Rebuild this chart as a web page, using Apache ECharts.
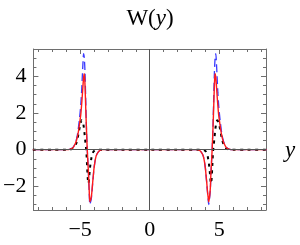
<!DOCTYPE html>
<html>
<head>
<meta charset="utf-8">
<script src="https://cdn.jsdelivr.net/npm/echarts@6/dist/echarts.min.js"></script>
<style>
html,body{margin:0;padding:0;background:#fff;}
#c{width:300px;height:245px;}
</style>
</head>
<body>
<div id="c"></div>
<script>
// ---- data ----
const xs = [-8.4, -7, -6, -5.7, -5.5, -5.4, -5.3, -5.2, -5.1, -5.0, -4.95, -4.9, -4.85, -4.8, -4.75, -4.7, -4.65, -4.6, -4.55, -4.5, -4.45, -4.4, -4.35, -4.3, -4.25, -4.2, -4.15, -4.1, -4.05, -4.0, -3.9, -3.8, -3.6, -3.4, -2, 0,
            2, 3.4, 3.6, 3.8, 3.9, 4.0, 4.05, 4.1, 4.15, 4.2, 4.25, 4.3, 4.35, 4.4, 4.45, 4.5, 4.55, 4.6, 4.65, 4.7, 4.75, 4.8, 4.85, 4.9, 4.95, 5.0, 5.1, 5.2, 5.3, 5.4, 5.5, 5.7, 6, 7, 8.4];
const redW = [0, 0, 0, 0.03, 0.12, 0.25, 0.42, 0.7, 1.1, 1.65, 1.95, 2.4, 2.9, 3.45, 3.95, 4.15, 3.5, 2.3, 1.2, 0.2, -0.6, -1.3, -2.2, -2.85, -2.85, -2.6, -2.25, -1.8, -1.4, -1.0, -0.5, -0.25, -0.05, 0, 0, 0,
              0, 0, -0.05, -0.25, -0.5, -1.0, -1.4, -1.8, -2.25, -2.6, -2.85, -2.85, -2.2, -1.3, -0.6, 0.2, 1.2, 2.3, 3.5, 4.15, 3.95, 3.45, 2.9, 2.4, 1.95, 1.65, 1.1, 0.7, 0.42, 0.25, 0.12, 0.03, 0, 0, 0];
const blueW = [0, 0, 0, 0.03, 0.13, 0.27, 0.47, 0.8, 1.35, 2.05, 2.5, 3.1, 3.9, 4.7, 5.25, 5.0, 4.2, 2.8, 1.3, 0.2, -0.6, -1.35, -2.3, -3.0, -3.0, -2.7, -2.3, -1.85, -1.4, -1.0, -0.5, -0.25, -0.05, 0, 0, 0,
               0, 0, -0.05, -0.25, -0.5, -1.0, -1.4, -1.85, -2.3, -2.7, -3.0, -3.0, -2.3, -1.35, -0.6, 0.2, 1.3, 2.8, 4.2, 5.0, 5.25, 4.7, 3.9, 3.1, 2.5, 2.05, 1.35, 0.8, 0.47, 0.27, 0.13, 0.03, 0, 0, 0];
const blackW = [0, 0, 0, 0.01, 0.07, 0.15, 0.3, 0.55, 0.95, 1.35, 1.5, 1.6, 1.6, 1.5, 1.3, 1.0, 0.6, 0.25, -0.15, -0.9, -1.6, -1.85, -1.5, -1.05, -0.75, -0.5, -0.3, -0.2, -0.12, -0.08, -0.03, -0.01, 0, 0, 0, 0,
                0, 0, 0, -0.01, -0.03, -0.08, -0.12, -0.2, -0.3, -0.5, -0.75, -1.05, -1.5, -1.85, -1.6, -0.9, -0.15, 0.25, 0.6, 1.0, 1.3, 1.5, 1.6, 1.6, 1.5, 1.35, 0.95, 0.55, 0.3, 0.15, 0.07, 0.01, 0, 0, 0];
const xMajor = [-5, 0, 5];
const xMinor = [-8, -7, -6, -5, -4, -3, -2, -1, 0, 1, 2, 3, 4, 5, 6, 7, 8];
const yMajor = [-2, 0, 2, 4];
const yMinor = [-3, -2.5, -2, -1.5, -1, -0.5, 0, 0.5, 1, 1.5, 2, 2.5, 3, 3.5, 4, 4.5, 5, 5.5];
const titleText = 'W(';
const axisVar = 'y';

// ---- chart ----
const XMIN = -8.36, XMAX = 8.36, YMIN = -3.3, YMAX = 5.5;
const FRAME = '#6e6e6e';
const FONT = 'Liberation Serif';
const fmt = v => String(v).replace('-', '\u2212');

function xa(pos, vals, len, line, label) {
  return {
    type: 'value', position: pos, min: XMIN, max: XMAX,
    axisLine: {show: line, onZero: false, lineStyle: {color: FRAME, width: 1}},
    axisTick: {show: true, inside: true, length: len, customValues: vals, lineStyle: {color: FRAME, width: 1}},
    axisLabel: label ? {show: true, customValues: vals, formatter: fmt, fontSize: 22, fontFamily: FONT, fontWeight: 'normal', color: '#000', margin: 9} : {show: false},
    splitLine: {show: false}
  };
}
function ya(pos, vals, len, line, label) {
  return {
    type: 'value', position: pos, min: YMIN, max: YMAX,
    axisLine: {show: line, onZero: false, lineStyle: {color: FRAME, width: 1}},
    axisTick: {show: true, inside: true, length: len, customValues: vals, lineStyle: {color: FRAME, width: 1}},
    axisLabel: label ? {show: true, customValues: vals, formatter: fmt, fontSize: 22, fontFamily: FONT, fontWeight: 'normal', color: '#000', margin: 7} : {show: false},
    splitLine: {show: false}
  };
}
const pts = arr => xs.map((x, i) => [x, arr[i]]);

const chart = echarts.init(document.getElementById('c'), null, {renderer: 'canvas'});
chart.setOption({
  animation: false,
  backgroundColor: '#fff',
  textStyle: {fontFamily: FONT},
  title: {
    text: '{r|' + titleText + '}{i|' + axisVar + '}{r|)}',
    left: 'center', top: 2,
    textStyle: {fontWeight: 'normal', rich: {
      r: {fontFamily: FONT, fontSize: 23, fontWeight: 'normal', color: '#000'},
      i: {fontFamily: FONT, fontSize: 23, fontWeight: 'normal', fontStyle: 'italic', color: '#000'}
    }}
  },
  grid: {left: 32, right: 34, top: 49, bottom: 35},
  xAxis: [
    xa('bottom', xMajor, 5, true, true),
    xa('bottom', xMinor, 3, false, false),
    xa('top', xMajor, 5, true, false),
    xa('top', xMinor, 3, false, false)
  ],
  yAxis: [
    ya('left', yMajor, 5, true, true),
    ya('left', yMinor, 3, false, false),
    ya('right', yMajor, 5, true, false),
    ya('right', yMinor, 3, false, false)
  ],
  graphic: [{
    type: 'text', left: 285, top: 139,
    style: {text: axisVar, font: 'italic 23px "Liberation Serif"', fill: '#000'}
  }],
  series: [
    {type: 'line', data: pts(blueW), smooth: 0.3, symbol: 'none', z: 2,
     lineStyle: {color: '#3a3aff', width: 1.3, type: [8, 4]}},
    {type: 'line', data: pts(blackW), smooth: 0.3, symbol: 'none', z: 3,
     lineStyle: {color: '#000', width: 2, type: [3, 4.5]}},
    {type: 'line', data: pts(redW), smooth: 0.3, symbol: 'none', z: 4,
     lineStyle: {color: '#ff1a1a', width: 1.4}},
    {type: 'line', data: [], z: 5,
     markLine: {silent: true, symbol: 'none', label: {show: false},
       lineStyle: {color: '#555', width: 1, type: 'solid'},
       data: [{xAxis: 0}, {yAxis: 0}]}}
  ]
});
</script>
</body>
</html>
